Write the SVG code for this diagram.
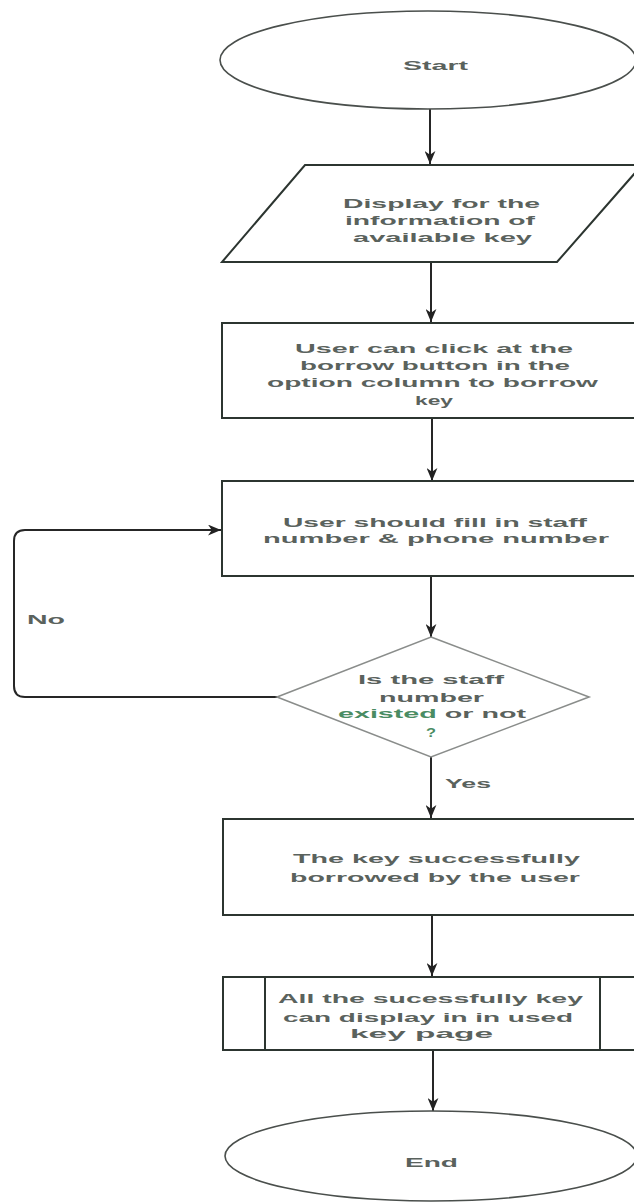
<svg xmlns="http://www.w3.org/2000/svg" width="634" height="1203" viewBox="0 0 634 1203">
  <defs>
    <marker id="arrow" markerUnits="userSpaceOnUse" viewBox="0 0 12 10" refX="12" refY="5" markerWidth="13" markerHeight="11" orient="auto">
      <path d="M0,0 L12,5 L0,10 L3.5,5 z" fill="#222"/>
    </marker>
    <style>
      .shape { fill: #ffffff; stroke: #2c3530; stroke-width: 2; }
      .oval { fill: #ffffff; stroke: #4a4f4c; stroke-width: 1.6; }
      .decision { fill: #ffffff; stroke: #8a8d8b; stroke-width: 1.6; }
      .edge { fill: none; stroke: #262626; stroke-width: 2; }
      text { font-family: "Liberation Sans", Arial, sans-serif; font-size: 13px; font-weight: bold; fill: #5a625d; }
      .green { fill: #4a8c63; }
    </style>
  </defs>
  <rect width="634" height="1203" fill="#ffffff"/>

  <!-- connectors -->
  <g id="connectors">
    <line class="edge" x1="430" y1="108" x2="430" y2="164" marker-end="url(#arrow)"/>
    <line class="edge" x1="431" y1="262" x2="431" y2="322" marker-end="url(#arrow)"/>
    <line class="edge" x1="432" y1="418" x2="432" y2="481" marker-end="url(#arrow)"/>
    <line class="edge" x1="431" y1="576" x2="431" y2="637" marker-end="url(#arrow)"/>
    <line class="edge" x1="431" y1="757" x2="431" y2="818" marker-end="url(#arrow)"/>
    <line class="edge" x1="432" y1="915" x2="432" y2="976" marker-end="url(#arrow)"/>
    <line class="edge" x1="433" y1="1050" x2="433" y2="1111" marker-end="url(#arrow)"/>
    <path class="edge" d="M277,697 H25 Q14,697 14,686 V541 Q14,530 25,530 H221" marker-end="url(#arrow)"/>
    <text x="27" y="624" textLength="38" lengthAdjust="spacingAndGlyphs">No</text>
    <text x="445" y="788" textLength="46" lengthAdjust="spacingAndGlyphs">Yes</text>
  </g>

  <!-- start terminal -->
  <g id="start">
    <ellipse class="oval" cx="428" cy="60" rx="208" ry="49"/>
    <text x="403" y="70" textLength="65" lengthAdjust="spacingAndGlyphs">Start</text>
  </g>

  <!-- input: list of available keys -->
  <g id="display-keys">
    <polygon class="shape" points="305,165 642,165 557,262 222,262"/>
    <text x="343" y="208" textLength="197" lengthAdjust="spacingAndGlyphs">Display for the</text>
    <text x="345" y="225" textLength="190" lengthAdjust="spacingAndGlyphs">information of</text>
    <text x="353" y="242" textLength="179" lengthAdjust="spacingAndGlyphs">available key</text>
  </g>

  <!-- borrow button step -->
  <g id="click-borrow">
    <rect class="shape" x="222" y="323" width="420" height="95"/>
    <text x="295" y="353" textLength="278" lengthAdjust="spacingAndGlyphs">User can click at the</text>
    <text x="300" y="370" textLength="270" lengthAdjust="spacingAndGlyphs">borrow button in the</text>
    <text x="267" y="387" textLength="331" lengthAdjust="spacingAndGlyphs">option column to borrow</text>
    <text x="415" y="405" textLength="38" lengthAdjust="spacingAndGlyphs">key</text>
  </g>

  <!-- staff details form -->
  <g id="fill-details">
    <rect class="shape" x="222" y="481" width="420" height="95"/>
    <text x="283" y="527" textLength="304" lengthAdjust="spacingAndGlyphs">User should fill in staff</text>
    <text x="263" y="543" textLength="346" lengthAdjust="spacingAndGlyphs">number &amp; phone number</text>
  </g>

  <!-- staff number check -->
  <g id="check-staff">
    <polygon class="decision" points="431,637 589,697 431,757 277,697"/>
    <text x="358" y="684" textLength="146" lengthAdjust="spacingAndGlyphs">Is the staff</text>
    <text x="379" y="702" textLength="105" lengthAdjust="spacingAndGlyphs">number</text>
    <text x="338" y="718" textLength="188" lengthAdjust="spacingAndGlyphs"><tspan class="green">existed</tspan> or not</text>
    <text class="green" x="426" y="737" textLength="10" lengthAdjust="spacingAndGlyphs">?</text>
  </g>

  <!-- borrow success -->
  <g id="borrowed">
    <rect class="shape" x="223" y="819" width="420" height="96"/>
    <text x="293" y="863" textLength="287" lengthAdjust="spacingAndGlyphs">The key successfully</text>
    <text x="290" y="882" textLength="290" lengthAdjust="spacingAndGlyphs">borrowed by the user</text>
  </g>

  <!-- predefined process: used key page -->
  <g id="used-key-page">
    <rect class="shape" x="223" y="977" width="420" height="73"/>
    <line class="shape" x1="265" y1="977" x2="265" y2="1050"/>
    <line class="shape" x1="600" y1="977" x2="600" y2="1050"/>
    <text x="278" y="1003" textLength="305" lengthAdjust="spacingAndGlyphs">All the sucessfully key</text>
    <text x="283" y="1022" textLength="290" lengthAdjust="spacingAndGlyphs">can display in in used</text>
    <text x="350" y="1038" textLength="143" lengthAdjust="spacingAndGlyphs">key page</text>
  </g>

  <!-- end terminal -->
  <g id="end">
    <ellipse class="oval" cx="431" cy="1156" rx="206" ry="45"/>
    <text x="405" y="1167" textLength="53" lengthAdjust="spacingAndGlyphs">End</text>
  </g>
</svg>
